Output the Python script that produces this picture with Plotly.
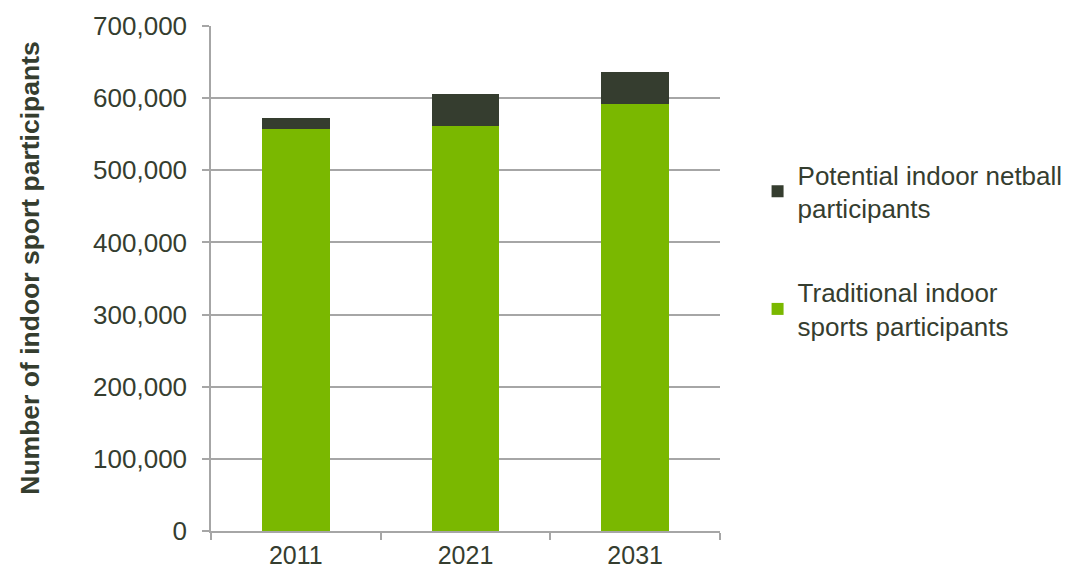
import plotly.graph_objects as go

years = ["2011", "2021", "2031"]
traditional = [557000, 562000, 592000]
netball = [15000, 44000, 44000]

series_names = ["Traditional indoor<br>sports participants", "Potential indoor netball<br>participants"]
y_title = "<b>Number of indoor sport participants</b>"
text_color = "#353D2F"
grid_color = "#A6A6A6"

fig = go.Figure()
fig.add_trace(go.Bar(
    x=years, y=traditional, name=series_names[0],
    marker=dict(color="#7AB800", line=dict(width=0)),
    width=0.4, legendgroup="a", legendrank=2,
))
fig.add_trace(go.Bar(
    x=years, y=netball, name=series_names[1],
    marker=dict(color="#353D2F", line=dict(width=0)),
    width=0.4, legendgroup="b", legendrank=1,
))

fig.update_layout(
    barmode="stack",
    width=1067, height=572,
    margin=dict(l=211, r=347, t=26, b=41),
    paper_bgcolor="white", plot_bgcolor="white",
    font=dict(family="Liberation Sans, Arial, sans-serif", size=26, color=text_color),
    legend=dict(
        xref="container", yref="container",
        x=0.71, y=0.736, xanchor="left", yanchor="top",
        traceorder="grouped", tracegroupgap=47,
        font=dict(size=26, color=text_color),
        itemwidth=30,
    ),
    annotations=[dict(
        text=y_title, textangle=-90,
        xref="paper", yref="paper", x=-0.355, y=0.52,
        xanchor="center", yanchor="middle", showarrow=False,
        font=dict(size=26.5, color=text_color),
    )],
)
fig.update_xaxes(
    type="category", tickson="boundaries", automargin=False,
    ticks="outside", ticklen=7, tickcolor=grid_color, tickwidth=1.5,
    showline=True, linecolor=grid_color, linewidth=1.5,
    showgrid=False,
    ticklabelstandoff=1,
    tickfont=dict(size=25, color=text_color),
)
fig.update_yaxes(
    range=[0, 700000], dtick=100000, tickformat=",", automargin=False,
    ticks="outside", ticklen=7, tickcolor=grid_color, tickwidth=1.5,
    showline=True, linecolor=grid_color, linewidth=1.5,
    showgrid=True, gridcolor=grid_color, gridwidth=1.5,
    zeroline=False,
    ticklabelstandoff=10,
    tickfont=dict(size=26, color=text_color),
)

fig.write_html("out.html")
